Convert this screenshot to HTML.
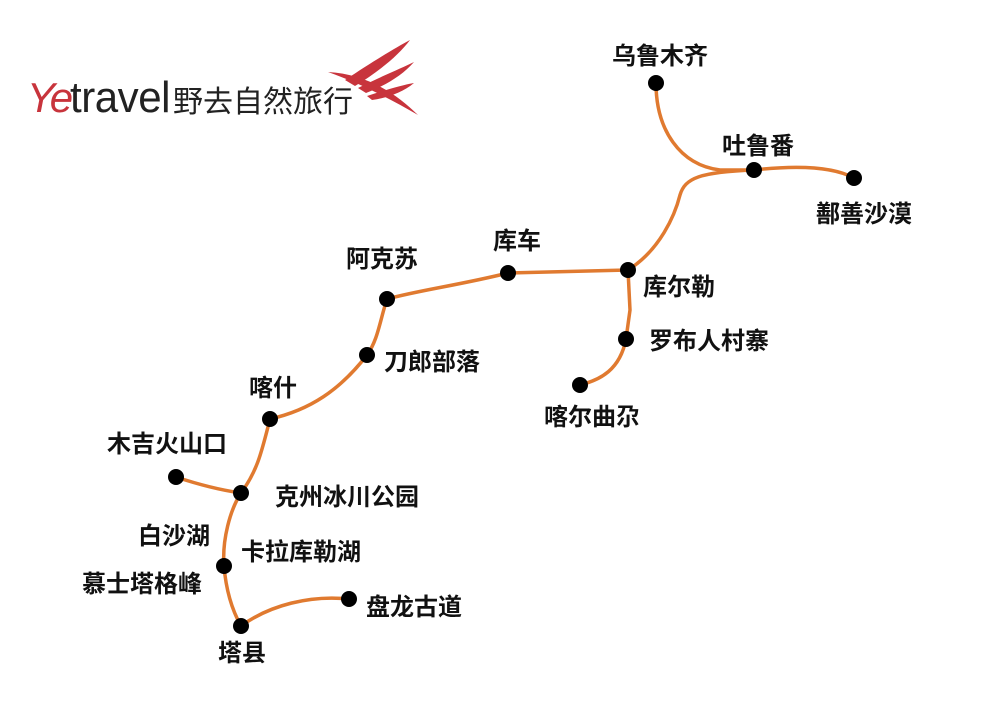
<!DOCTYPE html>
<html><head><meta charset="utf-8"><style>
body{margin:0;background:#fff;width:1000px;height:707px;overflow:hidden}
svg text{font-family:"Liberation Sans","Noto Sans CJK SC",sans-serif;font-weight:bold;font-size:24px;fill:#111}
</style></head><body>
<svg width="1000" height="707" viewBox="0 0 1000 707">
<text x="27" y="112" style="font-family:'Liberation Sans',sans-serif;font-style:italic;font-weight:normal;font-size:42px;fill:#c8343c;letter-spacing:-3px">Ye</text>
<text x="70" y="112" style="font-family:'Liberation Sans',sans-serif;font-weight:normal;font-size:44px;fill:#222;letter-spacing:-0.5px" textLength="100" lengthAdjust="spacingAndGlyphs">travel</text>
<text x="173" y="112" style="font-family:'Noto Sans CJK SC',sans-serif;font-weight:normal;font-size:30px;fill:#222">野去自然旅行</text>
<g fill="#c8343c">
<path d="M328,72 C365,74 395,92 418,115 C392,100 362,84 328,72Z"/>
<path d="M345,80 C372,62 395,48 410,40 C398,56 378,72 355,86Z"/>
<path d="M358,88 C382,76 402,68 414,62 C402,76 384,86 366,93Z"/>
<path d="M367,96 C386,90 402,85 414,83 C402,93 386,98 372,100Z"/>
</g>
<g fill="none" stroke="#e07a30" stroke-width="3.5" stroke-linecap="round">
<path d="M656,83 C656,130 680,165 720,170 L754,170"/>
<path d="M628,270 C660,250 675,215 680,195 C685,178 700,172 754,170"/>
<path d="M754,170 C790,166 830,165 854,178"/>
<path d="M628,270 L508,273"/>
<path d="M508,273 C460,285 420,290 387,299"/>
<path d="M387,299 C380,320 378,340 367,355"/>
<path d="M367,355 C340,390 310,410 270,419"/>
<path d="M270,419 C262,450 258,470 241,493"/>
<path d="M176,477 C200,485 220,490 241,493"/>
<path d="M241,493 C230,510 222,540 224,566"/>
<path d="M224,566 C226,590 232,610 241,626"/>
<path d="M241,626 C270,605 310,595 349,599"/>
<path d="M628,270 L630,310 L626,339"/>
<path d="M626,339 C620,370 600,380 580,385"/>
</g>
<g fill="#000">
<circle cx="656" cy="83" r="8"/><circle cx="754" cy="170" r="8"/><circle cx="854" cy="178" r="8"/>
<circle cx="628" cy="270" r="8"/><circle cx="508" cy="273" r="8"/><circle cx="387" cy="299" r="8"/>
<circle cx="367" cy="355" r="8"/><circle cx="270" cy="419" r="8"/><circle cx="241" cy="493" r="8"/>
<circle cx="176" cy="477" r="8"/><circle cx="224" cy="566" r="8"/><circle cx="241" cy="626" r="8"/>
<circle cx="349" cy="599" r="8"/><circle cx="626" cy="339" r="8"/><circle cx="580" cy="385" r="8"/>
</g>
<text x="612" y="64">乌鲁木齐</text>
<text x="722" y="154">吐鲁番</text>
<text x="816" y="222">鄯善沙漠</text>
<text x="643" y="295">库尔勒</text>
<text x="649" y="349">罗布人村寨</text>
<text x="544" y="425">喀尔曲尕</text>
<text x="493" y="249">库车</text>
<text x="346" y="267">阿克苏</text>
<text x="384" y="370">刀郎部落</text>
<text x="249" y="396">喀什</text>
<text x="107" y="452">木吉火山口</text>
<text x="275" y="505">克州冰川公园</text>
<text x="138" y="544">白沙湖</text>
<text x="241" y="560">卡拉库勒湖</text>
<text x="82" y="592">慕士塔格峰</text>
<text x="366" y="615">盘龙古道</text>
<text x="218" y="661">塔县</text>
</svg>
</body></html>
